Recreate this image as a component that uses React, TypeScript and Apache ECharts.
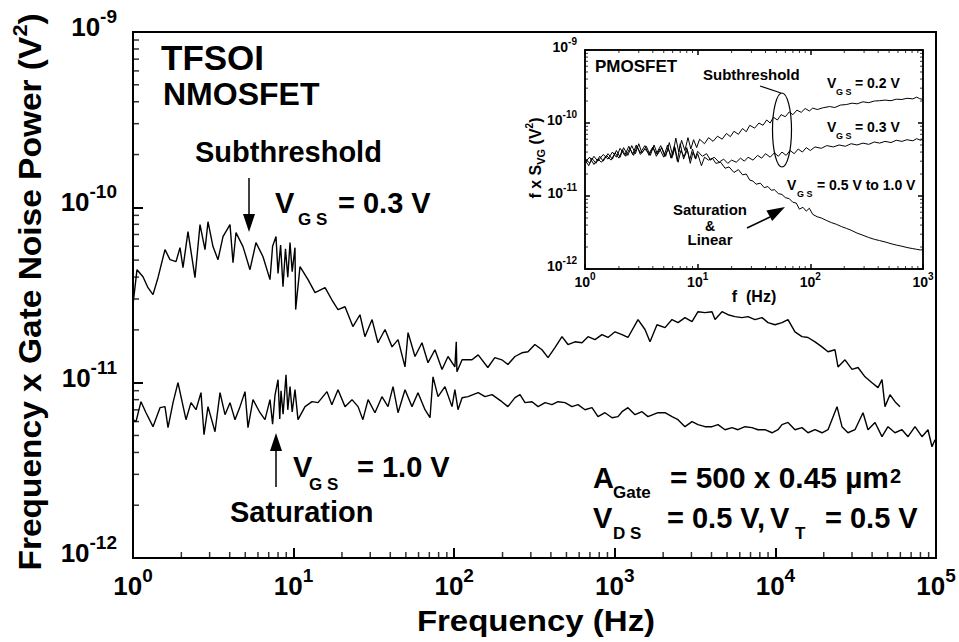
import React, { useEffect, useRef } from "react";
import * as echarts from "echarts";

const FONT = "'Liberation Sans', Arial, Helvetica, sans-serif";
const UNIT = 1e-11; // values below are in units of 1e-11 V^2
const TICK_COLOR = "#000";

// Main chart: NMOSFET, [frequency (Hz), f x S_VG (1e-11 V^2)]
const SUBTHRESHOLD_03V: [number, number][] = [
  [1.0, 2.79], [1.059, 4.41], [1.154, 4.02], [1.24, 3.48], [1.332, 3.18], [1.431, 3.97], [1.582, 5.74],
  [1.7, 5.03], [1.853, 4.9], [1.962, 5.89], [2.048, 4.53], [2.2, 7.27], [2.432, 3.97], [2.614, 7.97],
  [2.808, 5.74], [2.931, 8.28], [3.148, 5.97], [3.383, 5.03], [3.634, 6.81], [4.018, 7.97], [4.195, 4.84],
  [4.378, 7.17], [4.84, 5.97], [5.35, 4.41], [5.83, 6.29], [6.45, 5.23], [7.13, 3.87], [7.4, 6.0],
  [7.77, 6.81], [8.0, 4.2], [8.3, 6.1], [8.59, 3.53], [8.9, 5.8], [9.2, 4.0], [9.5, 6.29], [9.8, 4.3],
  [10.2, 5.89], [10.3, 2.61], [10.96, 4.59], [12.3, 3.87], [13.6, 3.26], [15.7, 3.48], [17.3, 2.97],
  [18.9, 2.61], [20.9, 2.71], [23.4, 2.09], [25.9, 2.44], [27.8, 1.83], [30.8, 2.29], [33.5, 1.69],
  [37.1, 2.01], [41.0, 1.6], [44.7, 1.76], [49.4, 1.23], [51.6, 1.93], [57.0, 1.41], [63.0, 1.69],
  [68.7, 1.3], [75.9, 1.54], [84.0, 1.19], [91.5, 1.41], [101, 1.23], [103, 1.71], [104, 1.155],
  [112, 1.35], [129, 1.35], [141, 1.44], [162, 1.22], [179, 1.39], [198, 1.35], [216, 1.27], [239, 1.41],
  [264, 1.48], [288, 1.5], [318, 1.65], [352, 1.54], [384, 1.39], [424, 1.585], [469, 1.83], [511, 1.65],
  [565, 1.71], [625, 1.69], [681, 1.83], [753, 1.76], [832, 1.88], [907, 1.81], [1003, 1.95], [1109, 1.88],
  [1208, 1.81], [1395, 2.29], [1542, 2.01], [1657, 1.71], [1831, 2.14], [2054, 2.06], [2271, 2.29],
  [2475, 2.2], [2735, 2.35], [3025, 2.23], [3297, 2.54], [3645, 2.51], [4030, 2.54], [4207, 2.29],
  [4651, 2.54], [5070, 2.44], [5603, 2.38], [6195, 2.35], [6751, 2.38], [7464, 2.29], [8253, 2.35],
  [8995, 2.2], [9943, 2.14], [10990, 2.2], [11980, 2.29], [13240, 1.95], [14640, 1.83], [15960, 1.81],
  [17650, 1.71], [19500, 1.6], [21260, 1.5], [23500, 1.54], [24540, 1.23], [27130, 1.35], [29990, 1.19],
  [32690, 1.22], [36140, 1.08], [39960, 1.0], [43550, 0.937], [46110, 1.04], [48130, 0.73], [51700, 0.854],
  [55550, 0.779], [59690, 0.73],
];

const SATURATION_10V: [number, number][] = [
  [1.0, 0.615], [1.044, 0.599], [1.121, 0.779], [1.205, 0.674], [1.332, 0.561], [1.473, 0.72], [1.582, 0.73],
  [1.652, 0.554], [1.775, 0.769], [1.906, 1.0], [1.99, 0.832], [2.138, 0.615], [2.297, 0.769], [2.468, 0.701],
  [2.651, 0.877], [2.768, 0.505], [2.931, 0.73], [3.241, 0.525], [3.482, 0.877], [3.741, 0.657], [4.018, 0.769],
  [4.316, 0.615], [4.637, 0.73], [4.983, 0.889], [5.2, 0.554], [5.587, 0.8], [6.177, 0.674], [6.635, 0.615],
  [7.13, 0.8], [7.4, 0.58], [7.66, 0.85], [8.0, 1.04], [8.2, 0.62], [8.35, 0.9], [8.6, 0.66], [8.97, 1.11],
  [9.2, 0.7], [9.5, 0.95], [9.8, 0.68], [10.2, 0.912], [10.65, 0.615], [11.78, 0.73], [13.02, 0.779],
  [14.19, 0.769], [16.14, 0.889], [17.3, 0.749], [18.9, 0.912], [20.9, 0.73], [23.1, 0.8], [25.2, 0.73],
  [27.0, 0.615], [29.1, 0.8], [32.1, 0.674], [35.5, 0.832], [38.7, 0.73], [41.6, 0.949], [44.7, 0.674],
  [49.4, 0.912], [54.6, 0.73], [59.5, 0.877], [65.8, 0.701], [70.7, 0.631], [73.8, 1.08], [79.3, 0.832],
  [87.6, 0.949], [96.9, 0.73], [101, 0.912], [105.6, 0.701], [112, 0.821], [122, 0.832], [141, 0.877],
  [155.6, 0.832], [172, 0.854], [198, 0.779], [216, 0.73], [239, 0.821], [257, 0.854], [276, 0.769],
  [305, 0.779], [333, 0.73], [368, 0.769], [406, 0.749], [443, 0.779], [490, 0.769], [541, 0.73], [590, 0.749],
  [652, 0.701], [721, 0.72], [786, 0.64], [869, 0.674], [961, 0.631], [1047, 0.64], [1109, 0.683],
  [1208, 0.72], [1336, 0.657], [1477, 0.683], [1609, 0.64], [1858, 0.674], [2054, 0.674], [2271, 0.64],
  [2475, 0.615], [2735, 0.561], [3025, 0.599], [3297, 0.576], [3645, 0.561], [4030, 0.561], [4391, 0.576],
  [4856, 0.539], [5369, 0.554], [5848, 0.539], [6466, 0.561], [7150, 0.554], [7793, 0.539], [8614, 0.539],
  [9524, 0.518], [10380, 0.539], [10990, 0.576], [11980, 0.593], [13240, 0.539], [14640, 0.554],
  [15960, 0.518], [17650, 0.539], [19500, 0.518], [21260, 0.539], [24190, 0.73], [25980, 0.561],
  [28310, 0.518], [31300, 0.539], [35120, 0.674], [37720, 0.539], [41710, 0.593], [46110, 0.492],
  [50240, 0.561], [55550, 0.518], [61420, 0.539], [66960, 0.492], [74000, 0.561], [81800, 0.492],
  [89160, 0.539], [94400, 0.431], [98600, 0.473],
];

// Inset: PMOSFET
const INSET_02V: [number, number][] = [
  [1.0, 3.1], [1.08, 2.6], [1.15, 3.3], [1.25, 2.8], [1.35, 3.5], [1.45, 3.0], [1.6, 3.8], [1.75, 3.2],
  [1.9, 4.2], [2.05, 3.4], [2.2, 4.6], [2.4, 3.6], [2.6, 4.9], [2.8, 3.8], [3.0, 5.2], [3.2, 3.9], [3.5, 4.8],
  [3.8, 3.6], [4.1, 5.0], [4.4, 3.7], [4.8, 4.6], [5.2, 3.5], [5.6, 5.4], [6.0, 3.6], [6.4, 6.2], [6.8, 4.0],
  [7.2, 5.8], [7.7, 4.2], [8.2, 6.3], [8.7, 4.4], [9.2, 5.9], [9.8, 4.6], [10.4, 6.0], [11.5, 5.2],
  [12.5, 6.3], [13.7, 5.6], [15, 6.6], [16.5, 6.0], [18, 7.2], [19.5, 6.5], [21, 7.7], [23, 7.0], [25, 8.4],
  [27, 7.6], [29, 9.3], [32, 8.5], [35, 10.0], [38, 9.3], [41, 11.0], [44, 10.0], [47, 12.0], [51, 11.0],
  [55, 13.0], [60, 12.2], [65, 14.2], [70, 13.0], [76, 15.0], [83, 14.0], [90, 15.8], [98, 14.6], [105, 16.0],
  [115, 15.3], [130, 16.2], [148, 16.8], [165, 16.3], [185, 17.6], [209, 17.9], [235, 18.7], [260, 18.3],
  [293, 19.5], [330, 19.0], [370, 20.0], [412, 20.2], [460, 20.6], [520, 20.2], [579, 21.2], [650, 21.0],
  [720, 21.8], [813, 21.4], [880, 22.6], [930, 21.6], [1000, 21.0],
];

const INSET_03V: [number, number][] = [
  [1.0, 2.9], [1.1, 3.4], [1.2, 2.7], [1.3, 3.2], [1.4, 2.9], [1.55, 3.6], [1.7, 3.1], [1.85, 3.9], [2.0, 3.3],
  [2.15, 4.3], [2.3, 3.5], [2.5, 4.5], [2.7, 3.6], [2.9, 4.8], [3.1, 3.7], [3.4, 4.4], [3.7, 3.8], [4.0, 4.7],
  [4.3, 3.5], [4.6, 4.4], [5.0, 3.4], [5.4, 5.0], [5.8, 3.3], [6.2, 4.8], [6.6, 3.0], [7.0, 5.2], [7.5, 3.2],
  [8.0, 4.6], [8.5, 3.1], [9.0, 4.4], [9.5, 3.3], [10, 4.1], [11, 3.5], [12, 3.8], [13, 3.1], [14, 3.4],
  [15.5, 2.9], [17, 3.2], [18.5, 2.8], [20, 3.1], [22, 2.9], [24, 3.3], [26, 3.0], [28, 3.4], [31, 3.1],
  [34, 3.6], [37, 3.3], [40, 3.8], [44, 3.4], [48, 3.9], [52, 3.5], [56, 4.0], [61, 3.6], [66, 4.2], [72, 3.8],
  [78, 4.4], [85, 4.0], [92, 4.6], [100, 4.2], [110, 4.7], [125, 4.5], [140, 4.9], [160, 4.7], [180, 5.0],
  [205, 4.8], [230, 5.2], [260, 5.0], [293, 5.3], [330, 5.1], [370, 5.5], [412, 5.3], [460, 5.6], [520, 5.4],
  [579, 5.8], [650, 5.6], [720, 5.9], [813, 5.7], [880, 6.1], [950, 5.8], [1000, 6.0],
];

const INSET_SAT: [number, number][] = [
  [1.0, 3.3], [1.1, 2.8], [1.2, 3.5], [1.3, 3.0], [1.45, 3.7], [1.6, 3.2], [1.75, 4.0], [1.9, 3.4], [2.05, 4.5],
  [2.25, 3.6], [2.45, 4.8], [2.65, 3.7], [2.85, 5.0], [3.1, 3.9], [3.4, 4.9], [3.7, 3.6], [4.0, 4.6], [4.3, 3.8],
  [4.7, 4.9], [5.1, 3.5], [5.5, 4.4], [5.9, 3.3], [6.3, 4.6], [6.7, 2.9], [7.1, 4.2], [7.6, 3.4], [8.1, 4.3],
  [8.6, 2.8], [9.1, 4.0], [9.6, 3.2], [10, 3.8], [10.8, 2.6], [11.5, 3.4], [12.5, 3.1], [13.5, 3.3],
  [14.5, 2.8], [16, 2.9], [17.5, 2.4], [19, 2.5], [21, 2.1], [23, 2.3], [25, 1.95], [27, 2.0], [29, 1.65],
  [31, 1.6], [33, 1.45], [36, 1.5], [39, 1.3], [42, 1.35], [45, 1.2], [48, 1.22], [52, 1.08], [56, 1.05],
  [60, 0.95], [65, 0.92], [70, 0.82], [75, 0.8], [80, 0.66], [86, 0.7], [92, 0.62], [98, 0.68], [105, 0.56],
  [115, 0.52], [125, 0.5], [140, 0.46], [155, 0.43], [170, 0.41], [190, 0.38], [209, 0.36], [230, 0.34],
  [260, 0.31], [293, 0.29], [330, 0.27], [370, 0.255], [412, 0.245], [460, 0.235], [520, 0.222], [579, 0.213],
  [650, 0.205], [720, 0.197], [813, 0.19], [880, 0.186], [950, 0.182], [1000, 0.185],
];

const MAIN_X_RANGE: [number, number] = [1, 1e5];
const MAIN_Y_RANGE: [number, number] = [1e-12, 1e-9];
const INSET_X_RANGE: [number, number] = [1, 1e3];
const INSET_Y_RANGE: [number, number] = [1e-12, 1e-9];
const MINOR_MULTIPLIERS = [2, 3, 4, 5, 6, 7, 8, 9];

function minorValues(range: [number, number]): number[] {
  const out: number[] = [];
  for (let d = range[0]; d < range[1] * 0.999; d *= 10) {
    for (const m of MINOR_MULTIPLIERS) out.push(d * m);
  }
  return out;
}

const toSeries = (arr: [number, number][]) => arr.map(([f, v]) => [f, v * UNIT]);

function powLabel(v: number) {
  const e = Math.round(Math.log10(v));
  return `{b|10}{e|${e}}`;
}

function labelRich(base: number, exp: number, L: number, l: number) {
  return {
    b: { fontSize: base, fontWeight: "bold", fontFamily: FONT, color: "#000", lineHeight: L },
    e: { fontSize: exp, fontWeight: "bold", fontFamily: FONT, color: "#000", lineHeight: l, verticalAlign: "top" },
  };
}

function logAxis(o: any) {
  return {
    type: "log",
    logBase: 10,
    gridIndex: o.grid,
    position: o.position,
    min: o.range[0],
    max: o.range[1],
    splitNumber: o.split,
    axisLine: { show: true, onZero: false, lineStyle: { color: "#000", width: o.lineWidth } },
    axisTick: { show: true, inside: true, length: o.tickLen, lineStyle: { color: "#000", width: o.lineWidth } },
    minorTick: { show: false },
    splitLine: { show: false },
    axisLabel: o.label
      ? {
          show: true,
          formatter: powLabel,
          margin: o.label.margin,
          padding: o.label.padding || 0,
          rich: labelRich(o.label.base, o.label.exp, o.label.L, o.label.l),
        }
      : { show: false },
  };
}

// minor ticks: thin rectangle symbols placed on the axis through the axis scale, shifted inward
function tickSeries(xi: number, yi: number, values: number[], axis: "x" | "y", fixed: number, len: number, width: number, offset: number) {
  return {
    type: "scatter",
    xAxisIndex: xi,
    yAxisIndex: yi,
    clip: false,
    symbol: "rect",
    symbolSize: axis === "x" ? [width, len] : [len, width],
    symbolOffset: axis === "x" ? [0, offset] : [offset, 0],
    itemStyle: { color: TICK_COLOR },
    data: values.map((v) => (axis === "x" ? [v, fixed] : [fixed, v])),
  };
}

function txt(x: number, y: number, text: string, size: number, align = "left", scaleX = 1) {
  return {
    type: "text",
    x,
    y,
    scaleX,
    silent: true,
    style: {
      text,
      fontSize: size,
      fontWeight: "bold",
      fontFamily: FONT,
      fill: "#000",
      align,
      verticalAlign: "middle",
    },
  };
}

function buildOption() {
  const lineMain = (name: string, data: [number, number][]) => ({
    type: "line",
    name,
    xAxisIndex: 0,
    yAxisIndex: 0,
    data: toSeries(data),
    showSymbol: false,
    symbol: "none",
    lineStyle: { color: "#000", width: 1.4 },
  });
  const lineInset = (name: string, data: [number, number][]) => ({
    type: "line",
    name,
    xAxisIndex: 1,
    yAxisIndex: 1,
    data: toSeries(data),
    showSymbol: false,
    symbol: "none",
    lineStyle: { color: "#000", width: 1 },
  });

  return {
    animation: false,
    grid: [
      { left: 133, top: 32, width: 803, height: 526, show: true, borderColor: "#000", borderWidth: 2 },
      { left: 585, top: 50, width: 338, height: 219, show: true, borderColor: "#000", borderWidth: 1.5 },
    ],
    xAxis: [
      logAxis({ grid: 0, position: "bottom", range: MAIN_X_RANGE, split: 5, lineWidth: 2, tickLen: 10,
        label: { base: 26, exp: 19, L: 40, l: 18, margin: 8 } }),
      logAxis({ grid: 1, position: "bottom", range: INSET_X_RANGE, split: 3, lineWidth: 1.5, tickLen: 5,
        label: { base: 14, exp: 10, L: 22, l: 10, margin: 2 } }),
      logAxis({ grid: 1, position: "top", range: INSET_X_RANGE, split: 3, lineWidth: 1.5, tickLen: 5 }),
    ],
    yAxis: [
      logAxis({ grid: 0, position: "left", range: MAIN_Y_RANGE, split: 3, lineWidth: 2, tickLen: 10,
        label: { base: 26, exp: 19, L: 40, l: 18, margin: 16, padding: [0, 0, 10, 0] } }),
      logAxis({ grid: 1, position: "left", range: INSET_Y_RANGE, split: 3, lineWidth: 1.5, tickLen: 5,
        label: { base: 14, exp: 10, L: 22, l: 10, margin: 8, padding: [0, 0, 6, 0] } }),
      logAxis({ grid: 1, position: "right", range: INSET_Y_RANGE, split: 3, lineWidth: 1.5, tickLen: 5 }),
    ],
    series: [
      lineMain("VGS = 0.3 V (subthreshold)", SUBTHRESHOLD_03V),
      lineMain("VGS = 1.0 V (saturation)", SATURATION_10V),
      lineInset("VGS = 0.2 V", INSET_02V),
      lineInset("VGS = 0.3 V", INSET_03V),
      lineInset("VGS = 0.5 V to 1.0 V", INSET_SAT),
      tickSeries(0, 0, minorValues(MAIN_X_RANGE), "x", MAIN_Y_RANGE[0], 6, 1.5, -3),
      tickSeries(0, 0, minorValues(MAIN_Y_RANGE), "y", MAIN_X_RANGE[0], 6, 1.5, 3),
      tickSeries(1, 1, minorValues(INSET_X_RANGE), "x", INSET_Y_RANGE[0], 3, 1, -1.5),
      tickSeries(1, 1, minorValues(INSET_X_RANGE), "x", INSET_Y_RANGE[1], 3, 1, 1.5),
      tickSeries(1, 1, minorValues(INSET_Y_RANGE), "y", INSET_X_RANGE[0], 3, 1, 1.5),
      tickSeries(1, 1, minorValues(INSET_Y_RANGE), "y", INSET_X_RANGE[1], 3, 1, -1.5),
    ],
    graphic: [
      txt(536, 621, "Frequency (Hz)", 30, "center", 1.1),
      {
        type: "text",
        x: 30,
        y: 292,
        rotation: Math.PI / 2,
        scaleX: 1.08,
        silent: true,
        style: {
          text: "{a|Frequency x Gate Noise Power (V}{s|2}{a|)}",
          align: "center",
          verticalAlign: "middle",
          rich: {
            a: { fontSize: 31, fontWeight: "bold", fontFamily: FONT, fill: "#000", lineHeight: 40 },
            s: { fontSize: 20, fontWeight: "bold", fontFamily: FONT, fill: "#000", lineHeight: 22, verticalAlign: "top" },
          },
        },
      },
      {
        type: "text",
        x: 535,
        y: 158,
        rotation: Math.PI / 2,
        silent: true,
        style: {
          text: "{a|f x S}{b|VG}{a| (V}{c|2}{a|)}",
          align: "center",
          verticalAlign: "middle",
          rich: {
            a: { fontSize: 16, fontWeight: "bold", fontFamily: FONT, fill: "#000", lineHeight: 22 },
            b: { fontSize: 11, fontWeight: "bold", fontFamily: FONT, fill: "#000", lineHeight: 12, verticalAlign: "bottom" },
            c: { fontSize: 10, fontWeight: "bold", fontFamily: FONT, fill: "#000", lineHeight: 12, verticalAlign: "top" },
          },
        },
      },
      txt(754, 296, "f  (Hz)", 16, "center"),
      txt(161, 57.5, "TFSOI", 35),
      txt(163, 93.5, "NMOSFET", 32),
      txt(195, 152, "Subthreshold", 29),
      txt(275, 202.5, "V", 29),
      txt(298, 219, "G S", 17),
      txt(338, 202.5, "= 0.3 V", 29),
      txt(293, 467, "V", 29),
      txt(309, 484, "G S", 17),
      txt(357, 467, "= 1.0 V", 29),
      txt(230, 512, "Saturation", 29),
      txt(593, 477.5, "A", 29),
      txt(613, 492.5, "Gate", 17),
      txt(670, 477.5, "= 500 x 0.45 \u00b5m", 29, "left", 1.03),
      txt(890, 475.5, "2", 20),
      txt(593, 517.5, "V", 29),
      txt(613, 533.5, "D S", 17),
      txt(667, 517.5, "= 0.5 V,", 29),
      txt(770, 517.5, "V", 29),
      txt(795, 533.5, "T", 17),
      txt(825, 517.5, "= 0.5 V", 29),
      { type: "line", silent: true, shape: { x1: 249, y1: 178, x2: 249, y2: 216 }, style: { stroke: "#000", lineWidth: 1.5 } },
      { type: "polygon", silent: true, shape: { points: [[243, 214], [255, 214], [249, 232]] }, style: { fill: "#000" } },
      { type: "line", silent: true, shape: { x1: 276, y1: 487, x2: 276, y2: 450 }, style: { stroke: "#000", lineWidth: 1.5 } },
      { type: "polygon", silent: true, shape: { points: [[270, 451], [282, 451], [276, 433]] }, style: { fill: "#000" } },
      txt(595, 66, "PMOSFET", 17),
      txt(703, 74, "Subthreshold", 15),
      txt(827, 83, "V", 14),
      txt(836, 91.5, "G S", 9),
      txt(855, 83, "= 0.2 V", 14),
      txt(827, 127, "V", 14),
      txt(836, 135.5, "G S", 9),
      txt(855, 127, "= 0.3 V", 14),
      txt(787, 185, "V", 14),
      txt(797, 193.5, "G S", 9),
      txt(817, 185, "= 0.5 V to 1.0 V", 14),
      txt(710, 210, "Saturation", 14, "center", 1.07),
      txt(710, 225.5, "&", 14, "center"),
      txt(710, 240.5, "Linear", 14, "center", 1.07),
      { type: "line", silent: true, shape: { x1: 747, y1: 228, x2: 770, y2: 217 }, style: { stroke: "#000", lineWidth: 1.5 } },
      { type: "polygon", silent: true, shape: { points: [[785, 207], [772.2, 221], [766.4, 210.5]] }, style: { fill: "#000" } },
      { type: "ellipse", silent: true, shape: { cx: 782, cy: 130, rx: 9.5, ry: 37 }, style: { fill: "none", stroke: "#000", lineWidth: 1.2 } },
      { type: "line", silent: true, shape: { x1: 760, y1: 86, x2: 781, y2: 93 }, style: { stroke: "#000", lineWidth: 1.2 } },
    ],
  };
}

export default function App() {
  const ref = useRef<HTMLDivElement>(null);
  useEffect(() => {
    if (!ref.current) return;
    const chart = echarts.init(ref.current, undefined, { renderer: "svg" });
    chart.setOption(buildOption() as any);
    return () => chart.dispose();
  }, []);
  return (
    <div
      ref={ref}
      style={{ position: "fixed", left: 0, top: 0, width: 959, height: 642, background: "#fff" }}
    />
  );
}
